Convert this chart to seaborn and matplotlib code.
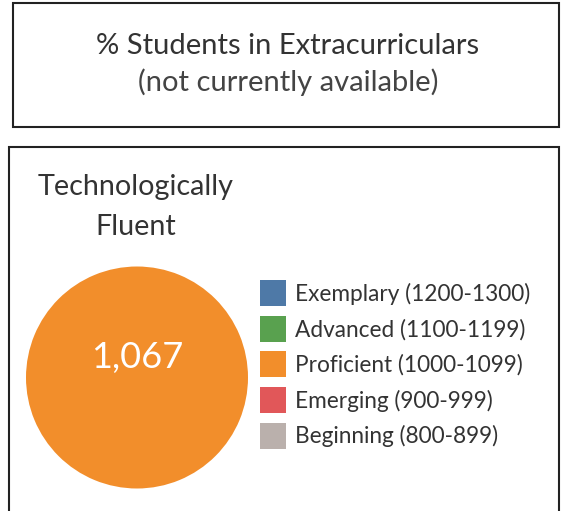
import matplotlib
matplotlib.use("Agg")
import matplotlib.pyplot as plt
from matplotlib.patches import Rectangle
import seaborn as sns

# Data
levels = ["Exemplary (1200-1300)", "Advanced (1100-1199)", "Proficient (1000-1099)",
          "Emerging (900-999)", "Beginning (800-899)"]
level_colors = ["#4E79A7", "#59A14F", "#F28E2B", "#E15759", "#BAB0AC"]
level_share = [0, 0, 1, 0, 0]   # the single score falls in Proficient
score = 1067
panel_title = "Technologically\nFluent"
top_title = "% Students in Extracurriculars"
top_subtitle = "(not currently available)"

sns.set_theme(style="white")
plt.rcParams["font.family"] = ["Lato", "DejaVu Sans"]
txt = "#333333"

W, H = 561, 511
fig = plt.figure(figsize=(W / 100, H / 100), dpi=100)

def fx(x):
    return x / W

def fy(y):
    return 1 - y / H

# boxes
fig.patches.append(Rectangle((fx(13), fy(127)), fx(559) - fx(13), fy(3) - fy(127),
                             transform=fig.transFigure, fill=False, ec="#222222", lw=1.5))
fig.patches.append(Rectangle((fx(9), fy(520)), fx(559) - fx(9), fy(147) - fy(520),
                             transform=fig.transFigure, fill=False, ec="#222222", lw=1.5))

fig.text(fx(288), fy(46), top_title, ha="center", va="center", fontsize=21, color=txt)
fig.text(fx(288), fy(82), top_subtitle, ha="center", va="center", fontsize=21, color="#444444")

fig.text(fx(136), fy(207), panel_title, ha="center", va="center", fontsize=20.7, color=txt,
         linespacing=1.63)

# pie
ax = fig.add_axes([fx(26), fy(489), fx(248) - fx(26), fy(266) - fy(489)])
wedges, _ = ax.pie(level_share, colors=level_colors, startangle=90, counterclock=False,
                   wedgeprops=dict(linewidth=0))
ax.set_xlim(-1, 1)
ax.set_ylim(-1, 1)
ax.text(0, 0.18, f"{score:,}", ha="center", va="center", fontsize=26, color="white")

fig.legend(wedges, levels, loc="upper left", bbox_to_anchor=(fx(260), fy(280)),
           frameon=False, fontsize=16.3, handlelength=1.15, handleheight=1.4,
           handletextpad=0.4, labelspacing=0.42, borderpad=0, borderaxespad=0,
           labelcolor=txt)

fig.savefig("out.png", dpi=100)
